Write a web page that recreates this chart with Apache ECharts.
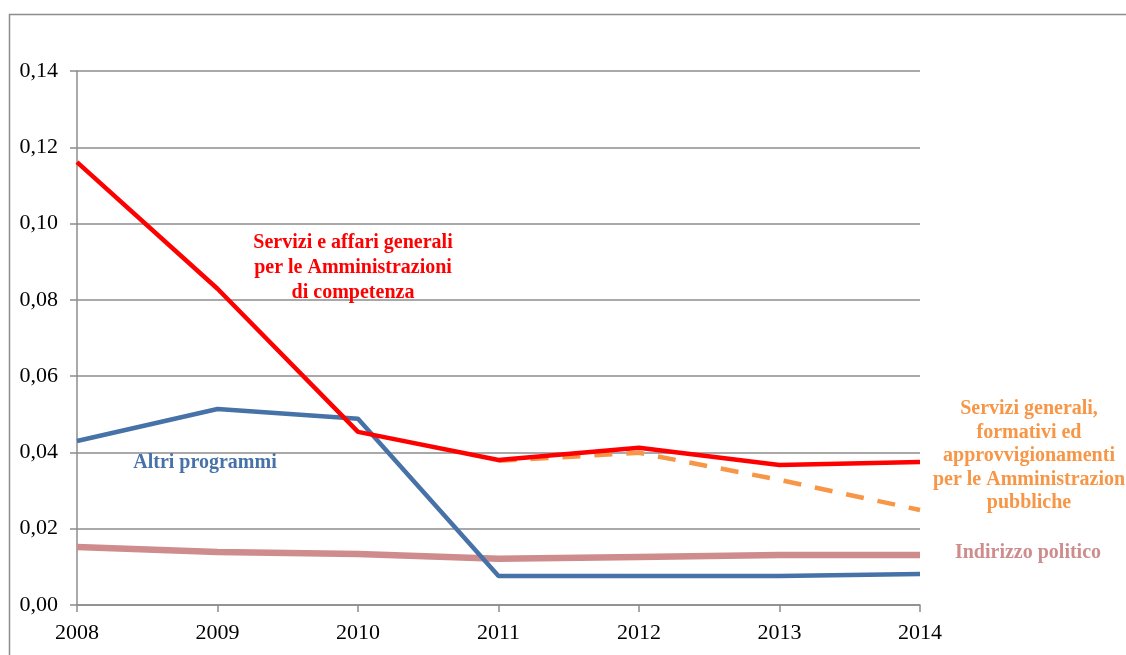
<!DOCTYPE html>
<html>
<head>
<meta charset="utf-8">
<script src="https://cdn.jsdelivr.net/npm/echarts@6/dist/echarts.min.js"></script>
<style>
  html, body { margin: 0; padding: 0; background: #fff; }
  #chart { width: 1126px; height: 655px; }
</style>
</head>
<body>
<div id="chart"></div>
<script>
// Years on the horizontal axis
const years = ['2008', '2009', '2010', '2011', '2012', '2013', '2014'];

// Series values (share, 0..1)
const serviziAffari = [0.1161, 0.0829, 0.0454, 0.0380, 0.0412, 0.0367, 0.0375];
const altriProgrammi = [0.0430, 0.0514, 0.0488, 0.0076, 0.0076, 0.0076, 0.0081];
const serviziGenerali = [null, null, null, 0.0378, 0.0399, 0.0328, 0.0249];
const indirizzoPolitico = [0.0152, 0.0139, 0.0134, 0.0121, 0.0126, 0.0131, 0.0131];

// Y axis range
const yMin = 0;
const yMax = 0.14;
const yStep = 0.02;

const gridColor = '#8c8c8c';
const serif = '"Liberation Serif", "Times New Roman", serif';
const labelFont = 'bold 20px ' + serif;

const chart = echarts.init(document.getElementById('chart'), null, { renderer: 'canvas' });

// Centred, multi-line annotation placed next to its line
function note(text, cx, top, color, lineHeight) {
  return {
    type: 'text',
    x: cx, y: top,
    silent: true,
    style: {
      text: text, fill: color, font: labelFont,
      align: 'center', verticalAlign: 'top', lineHeight: lineHeight
    },
    z: 10
  };
}

chart.setOption({
  animation: false,
  backgroundColor: '#ffffff',
  grid: { left: 77, right: 206, top: 71, bottom: 50, containLabel: false },
  xAxis: {
    type: 'category',
    data: years,
    boundaryGap: false,
    axisLine: { show: true, lineStyle: { color: gridColor, width: 1.5 } },
    axisTick: { show: true, alignWithLabel: true, length: 7, lineStyle: { color: gridColor, width: 1.5 } },
    axisLabel: { color: '#000', fontFamily: serif, fontSize: 22, margin: 17 },
    splitLine: { show: false }
  },
  yAxis: {
    type: 'value',
    min: yMin,
    max: yMax,
    interval: yStep,
    axisLine: { show: true, lineStyle: { color: gridColor, width: 1.5 } },
    axisTick: { show: true, length: 7, lineStyle: { color: gridColor, width: 1.5 } },
    axisLabel: {
      color: '#000', fontFamily: serif, fontSize: 22, margin: 19,
      formatter: v => v.toFixed(2).replace('.', ',')
    },
    splitLine: { show: true, lineStyle: { color: gridColor, width: 1.5 } }
  },
  series: [
    {
      name: 'Indirizzo politico',
      type: 'line',
      data: indirizzoPolitico,
      symbol: 'none',
      lineStyle: { color: '#cf8c8c', width: 6.5 },
      z: 2
    },
    {
      name: 'Altri programmi',
      type: 'line',
      data: altriProgrammi,
      symbol: 'none',
      lineStyle: { color: '#4772a8', width: 4.5 },
      z: 3
    },
    {
      name: 'Servizi generali, formativi ed approvvigionamenti per le Amministrazioni pubbliche',
      type: 'line',
      data: serviziGenerali,
      symbol: 'none',
      connectNulls: false,
      lineStyle: { color: '#f79646', width: 4.5, type: [18, 14] },
      z: 3
    },
    {
      name: 'Servizi e affari generali per le Amministrazioni di competenza',
      type: 'line',
      data: serviziAffari,
      symbol: 'none',
      lineStyle: { color: '#ff0000', width: 4.5 },
      z: 4
    }
  ],
  graphic: [
    {
      type: 'rect',
      silent: true,
      shape: { x: 9.5, y: 14.5, width: 1200, height: 700 },
      style: { fill: 'none', stroke: '#8c8c8c', lineWidth: 1.5 },
      z: 0
    },
    note('Servizi e affari generali\nper le Amministrazioni\ndi competenza', 353, 230, '#ff0000', 25),
    note('Altri programmi', 205, 451, '#4772a8', 24),
    note('Servizi generali,\nformativi ed\napprovvigionamenti\nper le Amministrazion\npubbliche', 1029, 397, '#f79646', 23.6),
    note('Indirizzo politico', 1028, 541, '#cf8c8c', 24)
  ]
});
</script>
</body>
</html>
